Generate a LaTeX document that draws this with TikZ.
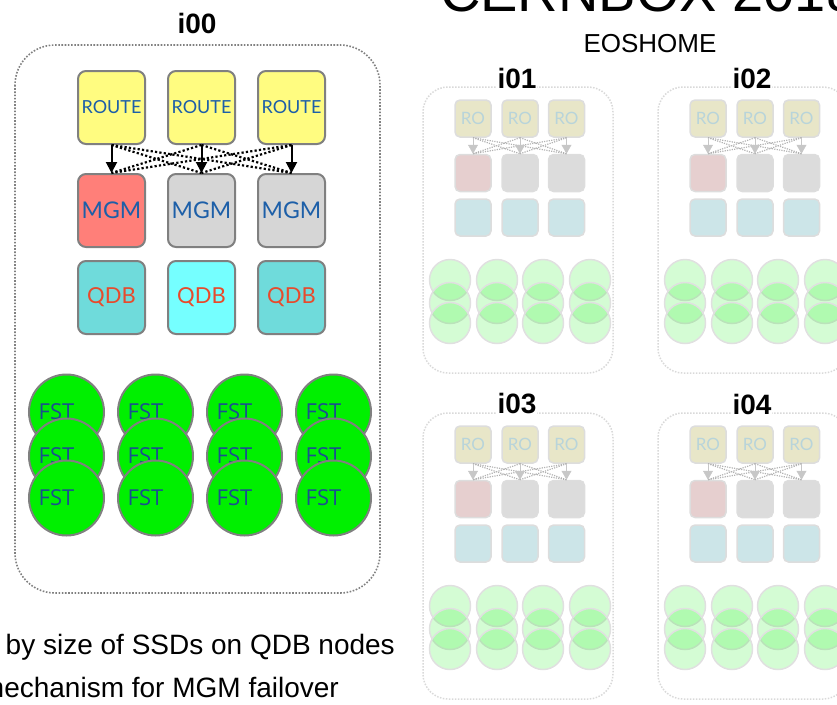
\documentclass[tikz,border=0pt]{standalone}
\usepackage{fontspec}
\setmainfont{Liberation Sans}
\newfontfamily\avenir{Lato}
\newfontfamily\segoe{Open Sans}
\usepackage{tikz}
\usetikzlibrary{arrows.meta,positioning}
\definecolor{routefill}{HTML}{FFFC80}
\definecolor{labelblue}{HTML}{1D5FA8}
\definecolor{mgmred}{HTML}{FF7F79}
\definecolor{mgmgray}{HTML}{D6D6D6}
\definecolor{qdbteal}{HTML}{6FDBDB}
\definecolor{qdbcyan}{HTML}{75FFFF}
\definecolor{qdbred}{HTML}{E84A2C}
\definecolor{edgegray}{HTML}{808080}
\definecolor{fstgreen}{HTML}{00F000}
\definecolor{fstblue}{HTML}{1B4F8F}
\definecolor{fadeyellow}{HTML}{E8E6C8}
\definecolor{fadered}{HTML}{E6CFCF}
\definecolor{fadegray}{HTML}{DCDCDC}
\definecolor{fadeteal}{HTML}{CCE5E8}
\definecolor{fadeedge}{HTML}{DDDDDD}
\definecolor{fadeblue}{HTML}{B8D4DA}

\newcommand{\smallcluster}[4]{%
  \begin{scope}[shift={(#2,#3)}]
    \draw[fadeframe] (0,0) rectangle (190,286);
    \node[grouptag,fill=white] (#1tag) at (94,-9) {#4};
    \foreach \c/\x/\tone in {1/50/fadered,2/97/fadegray,3/143.5/fadegray}{
      \node[rosmall] (#1r\c) at (\x,31.5) {RO};
      \node[smallbox,fill=\tone] (#1m\c) at (\x,86) {};
      \node[smallbox,fill=fadeteal] (#1q\c) at (\x,130.5) {};
    }
    \foreach \a/\b in {1/2,1/3,2/1,2/3,3/1,3/2}
      \draw[fadecross] (#1r\a.south) -- (#1m\b.north);
    \foreach \c in {1,2,3}
      \draw[fadearrow] (#1r\c) -- (#1m\c);
    \foreach \r/\y in {1/193,2/216,3/236}
      \foreach \c/\x in {1/27,2/74,3/120,4/167}
        \node[fstsmall] (#1f\r\c) at (\x,\y) {};
  \end{scope}}

\begin{document}
\begin{tikzpicture}[x=1pt,y=-1pt,
 grouptag/.style={font=\bfseries\fontsize{28}{30}\selectfont,inner sep=1pt},
 groupframe/.style={draw=black!50,line width=1.6pt,dash pattern=on 1.6pt off 1.6pt,rounded corners=40pt},
 fadeframe/.style={draw=black!15,line width=1.5pt,dash pattern=on 1.5pt off 1.5pt,rounded corners=25pt},
 box/.style={draw=edgegray,line width=2pt,rounded corners=8pt,minimum width=67pt,minimum height=73pt,inner sep=0pt},
 route/.style={box,fill=routefill,text=labelblue,font=\avenir\fontsize{18}{20}\selectfont},
 mgm/.style={box,fill=mgmgray,text=labelblue,font=\avenir\fontsize{23}{25}\selectfont},
 qdb/.style={box,fill=qdbteal,text=qdbred,font=\avenir\fontsize{22}{24}\selectfont},
 fst/.style={circle,draw=edgegray,line width=2pt,fill=fstgreen,minimum size=75pt,inner sep=0pt},
 fstname/.style={text=fstblue,font=\segoe\fontsize{22}{24}\selectfont,xshift=-10pt},
 arrow/.style={-{Triangle[length=11pt,width=11pt]},line width=2pt},
 crossline/.style={line width=2.2pt,dash pattern=on 2.2pt off 2.2pt},
 smallbox/.style={draw=fadeedge,line width=1.5pt,rounded corners=5pt,minimum width=36pt,minimum height=37pt,inner sep=0pt},
 rosmall/.style={smallbox,fill=fadeyellow,text=fadeblue,font=\avenir\fontsize{17}{19}\selectfont},
 fstsmall/.style={circle,draw=black!12,line width=1.5pt,fill=fstgreen,fill opacity=0.17,minimum size=41pt,inner sep=0pt},
 fadearrow/.style={-{Triangle[length=9pt,width=10pt]},draw=black!22,line width=0.6pt},
 fadecross/.style={draw=black!30,line width=1.2pt,dash pattern=on 1.2pt off 1.2pt}]
\useasboundingbox (0,0) rectangle (837,704);
\clip (0,0) rectangle (837,704);

\node[anchor=base west,inner sep=0pt,font=\fontsize{56}{60}\selectfont] (title) at (440,11) {CERNBOX 2018};
\node[font=\fontsize{26}{28}\selectfont] (eos) at (650,44) {EOSHOME};

\draw[groupframe] (15,45) rectangle (380,593);
\node[grouptag] (i00) at (197,23) {i00};
\node[route] (r1) at (111.5,107.5) {ROUTE};
\node[route,right=21pt of r1] (r2) {ROUTE};
\node[route,right=21pt of r2] (r3) {ROUTE};
\node[mgm,fill=mgmred,below=28pt of r1] (m1) {MGM};
\node[mgm,below=28pt of r2] (m2) {MGM};
\node[mgm,below=28pt of r3] (m3) {MGM};
\node[qdb,below=12pt of m1] (q1) {QDB};
\node[qdb,fill=qdbcyan,below=12pt of m2] (q2) {QDB};
\node[qdb,below=12pt of m3] (q3) {QDB};
\foreach \a/\b in {1/2,1/3,2/1,2/3,3/1,3/2}
  \draw[crossline] (r\a.south) -- (m\b.north);
\foreach \c in {1,2,3}
  \draw[arrow] (r\c) -- (m\c);
\foreach \r/\y in {1/412,2/456,3/498}
  \foreach \c/\x in {1/66.5,2/155.5,3/244.5,4/333.5}
    \node[fst,label={[fstname]center:FST}] (f\r\c) at (\x,\y) {};

\smallcluster{a}{423}{87}{i01}
\smallcluster{b}{658}{87}{i02}
\smallcluster{c}{423}{413}{i03}
\smallcluster{d}{658}{413}{i04}

\node[anchor=base east,inner sep=0pt,font=\fontsize{28}{30}\selectfont] (note1) at (395,654) {by size of SSDs on QDB nodes};
\node[anchor=base east,inner sep=0pt,font=\fontsize{28}{30}\selectfont] (note2) at (339,697) {mechanism for MGM failover};
\end{tikzpicture}
\end{document}
